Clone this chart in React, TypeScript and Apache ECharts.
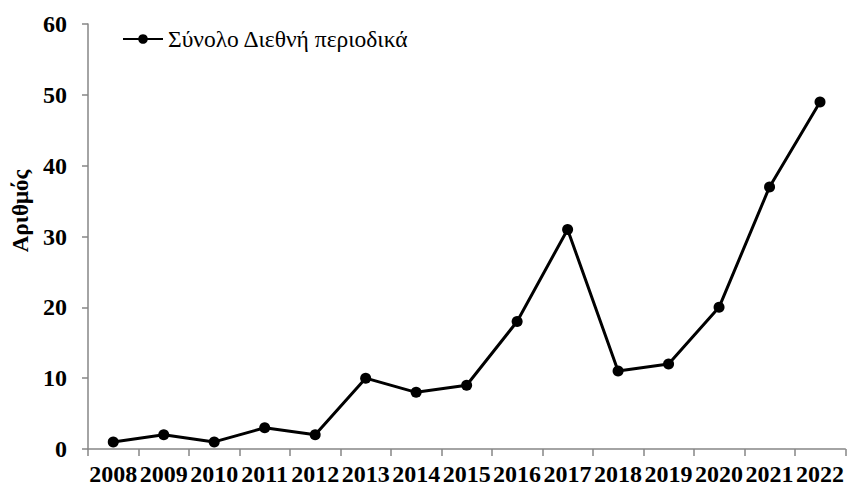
import React, { useEffect, useRef } from "react";
import * as echarts from "echarts";

const years = ["2008","2009","2010","2011","2012","2013","2014","2015","2016","2017","2018","2019","2020","2021","2022"];
const totals = [1, 2, 1, 3, 2, 10, 8, 9, 18, 31, 11, 12, 20, 37, 49];
const seriesName = "Σύνολο Διεθνή περιοδικά";
const yTitle = "Αριθμός";

export default function App() {
  const ref = useRef<HTMLDivElement>(null);
  useEffect(() => {
    document.body.style.margin = "0";
    const chart = echarts.init(ref.current!, null, { renderer: "svg" });
    const font = "'Liberation Serif', 'Times New Roman', serif";
    chart.setOption({
      animation: false,
      backgroundColor: "#ffffff",
      grid: { left: 88, right: 1, top: 24, bottom: 38, containLabel: false },
      legend: {
        data: [seriesName],
        left: 117,
        top: 22,
        itemWidth: 40,
        itemHeight: 12,
        itemGap: 4,
        textStyle: { fontFamily: font, fontSize: 23.5, color: "#000" },
      },
      graphic: [
        {
          type: "text",
          x: 20,
          y: 211,
          rotation: Math.PI / 2,
          style: {
            text: yTitle,
            fontFamily: font,
            fontWeight: "bold",
            fontSize: 23,
            fill: "#000",
            textAlign: "center",
            textVerticalAlign: "middle",
          },
        },
      ],
      xAxis: {
        type: "category",
        data: years,
        boundaryGap: true,
        axisLine: { lineStyle: { color: "#868686", width: 1.5 } },
        axisTick: { show: true, length: 7, lineStyle: { color: "#868686", width: 1.5 } },
        axisLabel: {
          interval: 0,
          margin: 13,
          fontFamily: font,
          fontWeight: "bold",
          fontSize: 24,
          color: "#000",
        },
        splitLine: { show: false },
      },
      yAxis: {
        type: "value",
        min: 0,
        max: 60,
        interval: 10,
        axisLine: { show: true, lineStyle: { color: "#868686", width: 1.5 } },
        axisTick: { show: true, length: 6, lineStyle: { color: "#868686", width: 1.5 } },
        axisLabel: {
          margin: 21,
          fontFamily: font,
          fontWeight: "bold",
          fontSize: 24,
          color: "#000",
        },
        splitLine: { show: false },
      },
      series: [
        {
          name: seriesName,
          type: "line",
          data: totals,
          symbol: "circle",
          symbolSize: 11,
          itemStyle: { color: "#000" },
          lineStyle: { color: "#000", width: 3 },
        },
      ],
    });
    return () => chart.dispose();
  }, []);
  return <div ref={ref} style={{ width: 847, height: 487 }} />;
}
